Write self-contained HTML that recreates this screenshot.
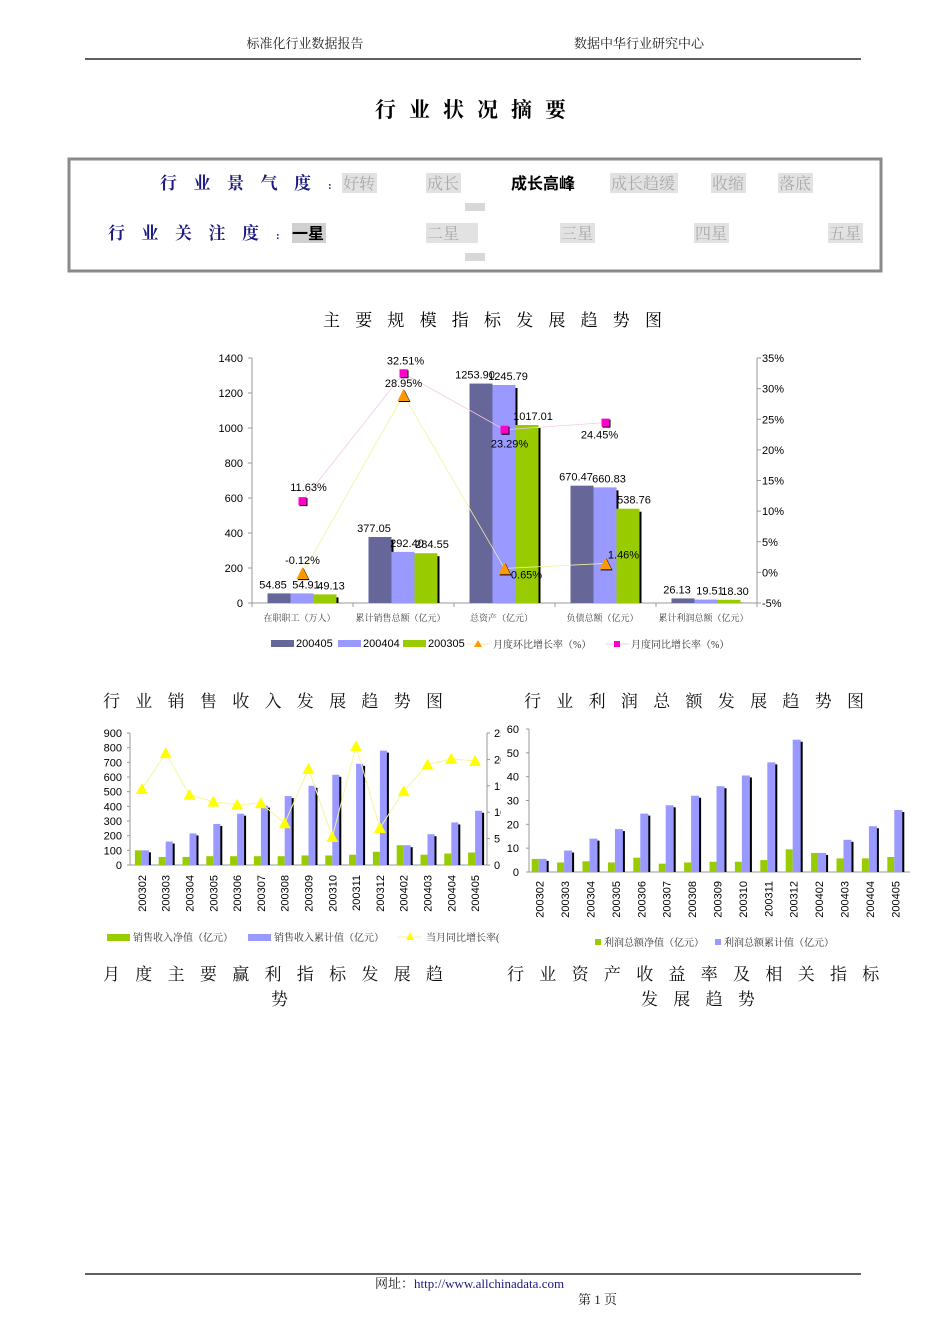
<!DOCTYPE html>
<html><head><meta charset="utf-8">
<style>
html,body{margin:0;padding:0;background:#fff;}
svg{display:block;}
.serif{font-family:"Liberation Serif","Noto Serif CJK SC","Noto Sans CJK SC",serif;}
.sans{font-family:"Liberation Sans","Noto Sans CJK SC",sans-serif;}
</style></head>
<body>
<svg id="page" width="950" height="1344" viewBox="0 0 950 1344" xmlns="http://www.w3.org/2000/svg">
<rect width="950" height="1344" fill="#fff"/>
<g class="serif" font-size="13" fill="#222">
<text x="305" y="48" text-anchor="middle">标准化行业数据报告</text>
<text x="639" y="48" text-anchor="middle">数据中华行业研究中心</text>
<line x1="85" y1="59" x2="861" y2="59" stroke="#000" stroke-width="1.3"/>
</g>
<text class="serif" x="375" y="117" font-size="21" font-weight="bold" letter-spacing="13">行业状况摘要</text>

<g>
<rect x="69" y="159" width="812" height="112" fill="#fff" stroke="#8a8a8a" stroke-width="3"/>
<g class="serif" font-size="17" font-weight="bold" fill="#1a1a80">
<text x="160" y="189" letter-spacing="16.5">行业景气度</text>
<text x="328" y="189" font-size="11">:</text>
<text x="108" y="239" letter-spacing="16.5">行业关注度</text>
<text x="276" y="239" font-size="11">:</text>
</g>
<g class="serif" font-size="16" fill="#aaa">
<rect x="342" y="173" width="35" height="20" fill="#e2e2e2"/><text x="343" y="189">好转</text>
<rect x="426" y="173" width="35" height="20" fill="#e2e2e2"/><text x="427" y="189">成长</text>
<text x="511" y="189" fill="#000" font-weight="bold" class="sans">成长高峰</text>
<rect x="610" y="173" width="68" height="20" fill="#e2e2e2"/><text x="611" y="189">成长趋缓</text>
<rect x="711" y="173" width="35" height="20" fill="#e2e2e2"/><text x="712" y="189">收缩</text>
<rect x="778" y="173" width="35" height="20" fill="#e2e2e2"/><text x="779" y="189">落底</text>
<rect x="465" y="203" width="20" height="8" fill="#d8d8d8"/>
<rect x="292" y="223" width="34" height="20" fill="#d0d0d0"/><text x="292" y="239" fill="#000" font-weight="bold" class="sans">一星</text>
<rect x="426" y="223" width="52" height="20" fill="#e2e2e2"/><text x="427" y="239">二星</text>
<rect x="560" y="223" width="35" height="20" fill="#e2e2e2"/><text x="561" y="239">三星</text>
<rect x="694" y="223" width="35" height="20" fill="#e2e2e2"/><text x="695" y="239">四星</text>
<rect x="828" y="223" width="35" height="20" fill="#e2e2e2"/><text x="829" y="239">五星</text>
<rect x="465" y="253" width="20" height="8" fill="#d8d8d8"/>
</g>
</g>

<text class="serif" x="323" y="326" font-size="17" letter-spacing="15.2">主要规模指标发展趋势图</text>
<g id="mainChart"></g>

<g class="serif" font-size="17" fill="#111">
<text x="103" y="707" letter-spacing="15.3">行业销售收入发展趋势图</text>
<text x="524" y="707" letter-spacing="15.3">行业利润总额发展趋势图</text>
<text x="103" y="980" letter-spacing="15.3">月度主要赢利指标发展趋</text>
<text x="271" y="1005">势</text>
<text x="507" y="980" letter-spacing="15.3">行业资产收益率及相关指标</text>
<text x="641" y="1005" letter-spacing="15.3">发展趋势</text>
</g>
<g id="salesChart"></g>
<g id="profitChart"></g>

<g class="serif" font-size="13">
<line x1="85" y1="1274" x2="861" y2="1274" stroke="#000" stroke-width="1.3"/>
<text x="375" y="1288" fill="#222">网址：<tspan fill="#1a1a80">http://www.allchinadata.com</tspan></text>
<text x="578" y="1304" fill="#222">第 1 页</text>
</g>
</svg>
<script>
// ---------- main chart data ----------
const mainCats = ['在职职工（万人）','累计销售总额（亿元）','总资产（亿元）','负债总额（亿元）','累计利润总额（亿元）'];
const s200405 = [54.85, 377.05, 1253.90, 670.47, 26.13];
const s200404 = [54.91, 292.40, 1245.79, 660.83, 19.51];
const s200305 = [49.13, 284.55, 1017.01, 538.76, 18.30];
const huanbi = [-0.12, 28.95, 0.65, 1.46, null];
const tongbi = [11.63, 32.51, 23.29, 24.45, null];
const mainLeftTicks = [0,200,400,600,800,1000,1200,1400];
const mainRightTicks = [-5,0,5,10,15,20,25,30,35];

// ---------- sales chart data ----------
const months = ['200302','200303','200304','200305','200306','200307','200308','200309','200310','200311','200312','200402','200403','200404','200405'];
const salesNet = [100,55,55,60,60,60,60,65,65,70,90,135,70,78,85];
const salesCum = [100,160,215,280,350,405,470,540,615,690,780,135,210,290,370];
const salesYoy = [14.4,21.2,13.3,12.0,11.4,11.7,7.9,18.2,5.3,22.5,7.0,14.0,19.0,20.1,19.7];
const salesLeftTicks = [0,100,200,300,400,500,600,700,800,900];
const salesRightTicks = [0,5,10,15,20,25];

// ---------- profit chart data ----------
const profitNet = [5.5,4,4.5,4,6,3.5,4,4.3,4.3,5,9.5,8,5.7,5.7,6.3];
const profitCum = [5.5,9,14,18,24.5,28,32,36,40.5,46,55.5,8,13.5,19.2,26];
const profitTicks = [0,10,20,30,40,50,60];

const NS='http://www.w3.org/2000/svg';
function mk(parent, tag, attrs, txt){
  const e=document.createElementNS(NS,tag);
  for(const k in attrs) e.setAttribute(k,attrs[k]);
  if(txt!==undefined) e.textContent=txt;
  parent.appendChild(e); return e;
}
const F='"Liberation Sans","Noto Sans CJK SC",sans-serif';
const FS='"Liberation Serif","Noto Serif CJK SC",serif';

// ===== main chart =====
(function(){
  const g=document.getElementById('mainChart');
  const L=252,R=757,T=358,B=603;
  const cw=(R-L)/mainCats.length;
  const y=v=>B-v/1400*(B-T);
  const yr=p=>B-(p+5)/40*(B-T);
  const cx=i=>L+(i+0.5)*cw;
  let e;
  e=mk(g,'line',{x1:L,y1:T,x2:L,y2:B,stroke:'#999'});
  
  
  e=mk(g,'line',{x1:R,y1:T,x2:R,y2:B,stroke:'#999'});
  
  
  e=mk(g,'line',{x1:L,y1:B,x2:R,y2:B,stroke:'#999'});
  
  
  mainLeftTicks.forEach(t=>{
    mk(g,'line',{x1:L-4,y1:y(t),x2:L,y2:y(t),stroke:'#999'});
    e=mk(g,'text',{x:L-9,y:y(t)+4,'text-anchor':'end','font-size':11,'font-family':F},t);
    
    
  });
  mainRightTicks.forEach(t=>{
    mk(g,'line',{x1:R,y1:yr(t),x2:R+4,y2:yr(t),stroke:'#999'});
    e=mk(g,'text',{x:R+5,y:yr(t)+4,'font-size':11,'font-family':F},t+'%');
    
    
  });
  for(let i=0;i<=mainCats.length;i++) mk(g,'line',{x1:L+i*cw,y1:B,x2:L+i*cw,y2:B+4,stroke:'#999'});
  const series=[[s200405,'#666699'],[s200404,'#9999ff'],[s200305,'#99cc00']];
  const bw=23;
  mainCats.forEach((c,i)=>{
    e=mk(g,'text',{x:cx(i)-3,y:621,'text-anchor':'middle','font-size':9,'font-family':FS,fill:'#444'},c);
    
    
    series.forEach((s,k)=>{
      const x=cx(i)-35+k*bw, top=y(s[0][i]);
      mk(g,'rect',{x:x+2,y:top+3,width:bw,height:B-top-3,fill:'#000'});
      e=mk(g,'rect',{x:x,y:top,width:bw,height:B-top,fill:s[1]});
      
      
      e=mk(g,'text',{x:x+bw/2+(k===0?-6:k===1?4:6),y:top-5,'text-anchor':'middle','font-size':11,'font-family':F},s[0][i].toFixed(2));
      
      
    });
  });
  function drawLine(vals,color){
    const pts=[];vals.forEach((v,i)=>{if(v!==null)pts.push(cx(i)+','+yr(v));});
    return mk(g,'polyline',{points:pts.join(' '),fill:'none',stroke:color,'stroke-width':0.8});
  }
  e=drawLine(tongbi,'#f4c8e8');
  
  
  e=drawLine(huanbi,'#f2f2a0');
  
  
  const hbOff=[[0,-9],[0,-8],[22,10],[18,-5]];
  const tbOff=[[6,-10],[2,-9],[5,18],[-6,16]];
  huanbi.forEach((v,i)=>{ if(v===null)return;
    const X=cx(i),Y=yr(v);
    mk(g,'polygon',{points:`${X+1},${Y-5} ${X+7},${Y+7} ${X-5},${Y+7}`,fill:'#000'});
    e=mk(g,'polygon',{points:`${X},${Y-6} ${X+6},${Y+6} ${X-6},${Y+6}`,fill:'#ff9900'});
    
    
    e=mk(g,'text',{x:X+hbOff[i][0],y:Y+hbOff[i][1],'text-anchor':'middle','font-size':11,'font-family':F},v.toFixed(2)+'%');
    
    
  });
  tongbi.forEach((v,i)=>{ if(v===null)return;
    const X=cx(i),Y=yr(v);
    mk(g,'rect',{x:X-3,y:Y-3,width:8,height:8,fill:'#000'});
    e=mk(g,'rect',{x:X-4,y:Y-4,width:8,height:8,fill:'#ff00cc'});
    
    
    e=mk(g,'text',{x:X+tbOff[i][0],y:Y+tbOff[i][1],'text-anchor':'middle','font-size':11,'font-family':F},v.toFixed(2)+'%');
    
    
  });
  const lg=mk(g,'g',{});
  
  
  [[271,'#666699','200405'],[338,'#9999ff','200404'],[403,'#99cc00','200305']].forEach(a=>{
    mk(lg,'rect',{x:a[0],y:640,width:23,height:7,fill:a[1]});
    mk(lg,'text',{x:a[0]+25,y:647,'font-size':11,'font-family':F},a[2]);
  });
  mk(lg,'line',{x1:467,y1:644,x2:490,y2:644,stroke:'#f2f2a0'});
  mk(lg,'polygon',{points:'478,640 482,647 474,647',fill:'#ff9900'});
  mk(lg,'text',{x:493,y:648,'font-size':10,'font-family':FS,fill:'#333'},'月度环比增长率（%）');
  mk(lg,'line',{x1:606,y1:644,x2:629,y2:644,stroke:'#f4c8e8'});
  mk(lg,'rect',{x:614,y:641,width:6,height:6,fill:'#ff00cc'});
  mk(lg,'text',{x:631,y:648,'font-size':10,'font-family':FS,fill:'#333'},'月度同比增长率（%）');
})();

// ===== sales chart =====
(function(){
  const g=document.getElementById('salesChart');
  const L=130,R=487,T=733,B=865;
  const cw=(R-L)/months.length;
  const y=v=>B-v/900*(B-T);
  const yr=p=>B-p/25*(B-T);
  const cx=i=>L+(i+0.5)*cw;
  let e;
  mk(g,'line',{x1:L,y1:T,x2:L,y2:B,stroke:'#999'});
  mk(g,'line',{x1:R,y1:T,x2:R,y2:B,stroke:'#999'});
  mk(g,'line',{x1:L,y1:B,x2:R,y2:B,stroke:'#999'});
  salesLeftTicks.forEach(t=>{
    mk(g,'line',{x1:L-3,y1:y(t),x2:L,y2:y(t),stroke:'#999'});
    e=mk(g,'text',{x:L-8,y:y(t)+4,'text-anchor':'end','font-size':11,'font-family':F},t);
    
    
  });
  salesRightTicks.forEach(t=>{
    mk(g,'line',{x1:R,y1:yr(t),x2:R+3,y2:yr(t),stroke:'#999'});
    e=mk(g,'text',{x:R+7,y:yr(t)+4,'font-size':11,'font-family':F},t);
    
    
  });
  months.forEach((m,i)=>{
    const c=cx(i);
    const tn=y(salesNet[i]), tc=y(salesCum[i]);
    e=mk(g,'rect',{x:c-7,y:tn,width:7,height:B-tn,fill:'#99cc00'});
    
    
    mk(g,'rect',{x:c+2,y:tc+2,width:7,height:B-tc-2,fill:'#000'});
    e=mk(g,'rect',{x:c,y:tc,width:7,height:B-tc,fill:'#9999ff'});
    
    
    e=mk(g,'text',{x:0,y:0,transform:`translate(${c+4},875) rotate(-90)`,'text-anchor':'end','font-size':11,'font-family':F},m);
    
    
  });
  e=mk(g,'polyline',{points:salesYoy.map((v,i)=>cx(i)+','+yr(v)).join(' '),fill:'none',stroke:'#f5f5a0','stroke-width':1});
  
  
  salesYoy.forEach((v,i)=>{
    const X=cx(i),Y=yr(v);
    e=mk(g,'polygon',{points:`${X},${Y-6} ${X+6},${Y+5} ${X-6},${Y+5}`,fill:'#ffff00'});
    
    
  });
  const lg=mk(g,'g',{});
  
  
  mk(lg,'rect',{x:107,y:934,width:23,height:7,fill:'#99cc00'});
  mk(lg,'text',{x:133,y:941,'font-size':10,'font-family':FS,fill:'#333'},'销售收入净值（亿元）');
  mk(lg,'rect',{x:248,y:934,width:23,height:7,fill:'#9999ff'});
  mk(lg,'text',{x:274,y:941,'font-size':10,'font-family':FS,fill:'#333'},'销售收入累计值（亿元）');
  mk(lg,'line',{x1:397,y1:937,x2:421,y2:937,stroke:'#f5f5a0'});
  mk(lg,'polygon',{points:'410,932 414,940 406,940',fill:'#ffff00'});
  mk(lg,'text',{x:426,y:941,'font-size':10,'font-family':FS,fill:'#333'},'当月同比增长率(');
  mk(g,'rect',{x:501,y:725,width:8,height:150,fill:'#fff'});
  mk(g,'rect',{x:505,y:928,width:20,height:20,fill:'#fff'});
})();

// ===== profit chart =====
(function(){
  const g=document.getElementById('profitChart');
  const L=529,R=910,T=729,B=872;
  const cw=(R-L)/months.length;
  const y=v=>B-v/60*(B-T);
  const cx=i=>L+(i+0.5)*cw-2;
  let e;
  mk(g,'line',{x1:L,y1:T,x2:L,y2:B,stroke:'#999'});
  mk(g,'line',{x1:L,y1:B,x2:R,y2:B,stroke:'#999'});
  profitTicks.forEach(t=>{
    mk(g,'line',{x1:L-3,y1:y(t),x2:L,y2:y(t),stroke:'#999'});
    e=mk(g,'text',{x:L-10,y:y(t)+4,'text-anchor':'end','font-size':11,'font-family':F},t);
    
    
  });
  months.forEach((m,i)=>{
    const c=cx(i);
    const tn=y(profitNet[i]), tc=y(profitCum[i]);
    e=mk(g,'rect',{x:c-8,y:tn,width:7,height:B-tn,fill:'#99cc00'});
    
    
    mk(g,'rect',{x:c+1,y:tc+2,width:8,height:B-tc-2,fill:'#000'});
    e=mk(g,'rect',{x:c-1,y:tc,width:8,height:B-tc,fill:'#9999ff'});
    
    
    e=mk(g,'text',{x:0,y:0,transform:`translate(${c+4},881) rotate(-90)`,'text-anchor':'end','font-size':11,'font-family':F},m);
    
    
  });
  const lg=mk(g,'g',{});
  
  
  mk(lg,'rect',{x:595,y:939,width:6,height:6,fill:'#99cc00'});
  mk(lg,'text',{x:604,y:946,'font-size':10,'font-family':FS,fill:'#333'},'利润总额净值（亿元）');
  mk(lg,'rect',{x:715,y:939,width:6,height:6,fill:'#9999ff'});
  mk(lg,'text',{x:724,y:946,'font-size':10,'font-family':FS,fill:'#333'},'利润总额累计值（亿元）');
})();
</script>
</body></html>
